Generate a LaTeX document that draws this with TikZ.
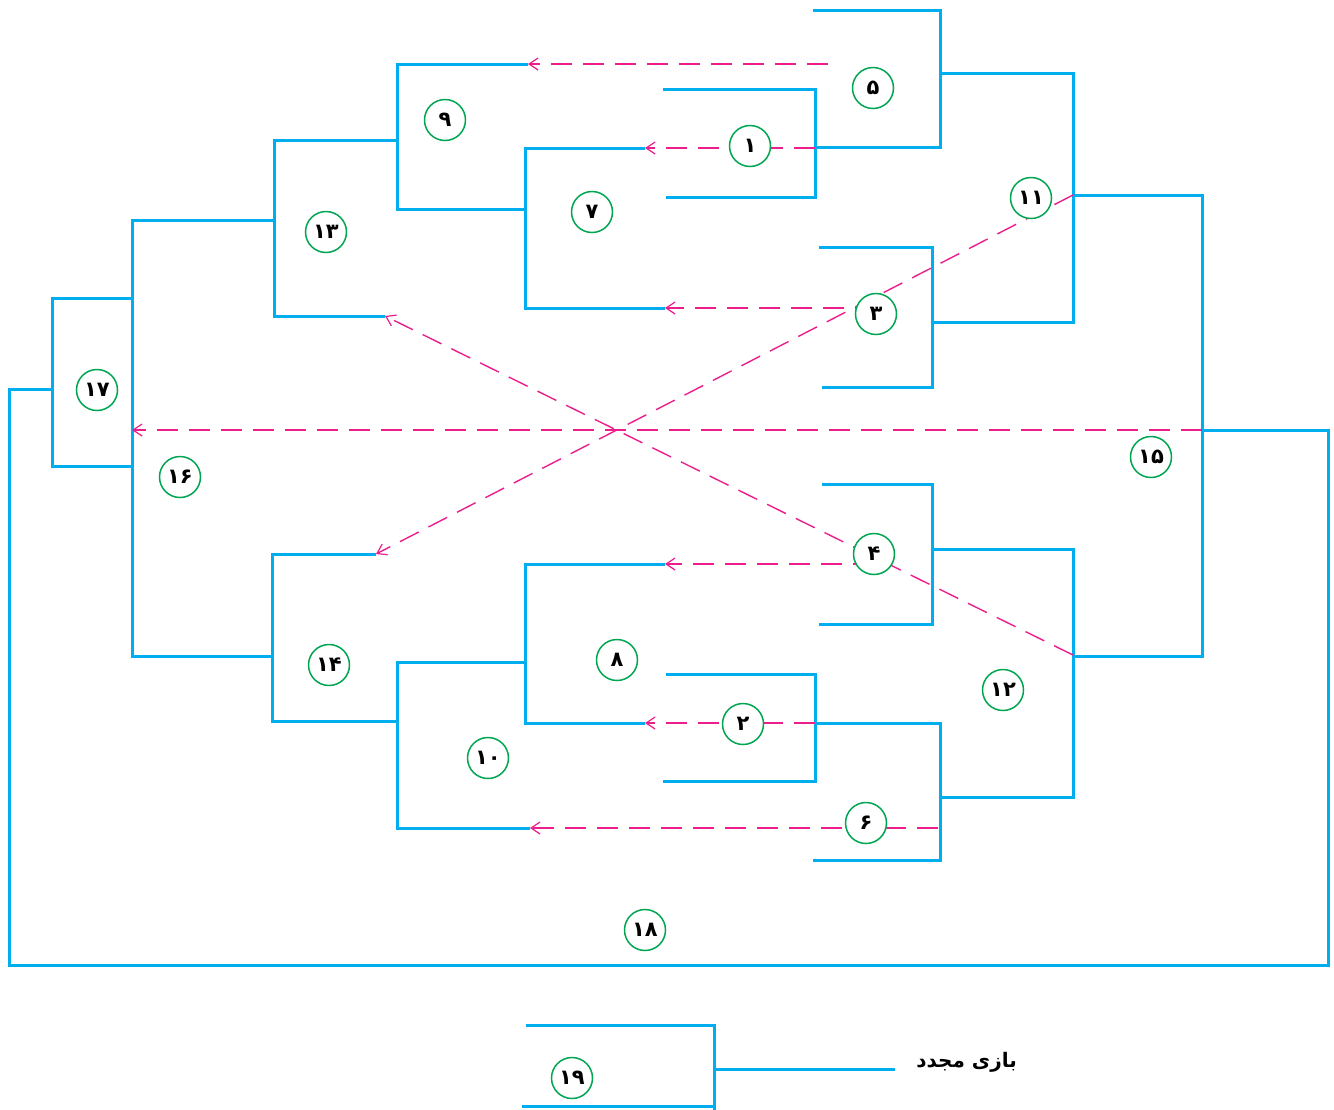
\documentclass[tikz,border=0pt]{standalone}
\usepackage{fontspec}
\newfontfamily\fa[Script=Arabic]{DejaVu Sans}
\TeXXeTstate=1
\usetikzlibrary{arrows.meta}
\definecolor{bblue}{RGB}{0,174,239}
\definecolor{mpink}{RGB}{236,30,140}
\definecolor{ggreen}{RGB}{0,166,81}
\tikzset{
  br/.style={draw=bblue, line width=3pt, line join=miter},
  loser/.style={draw=mpink, line width=1.4pt, dash pattern=on 21pt off 11pt,
    -{Straight Barb[length=9pt,width=12pt,line width=1.2pt]}},
  num/.style={circle, draw=ggreen, line width=1.5pt, fill=white, minimum size=41pt,
    inner sep=0pt, font=\fa\bfseries\fontsize{21}{21}\selectfont},
  lbl/.style={font=\fa\bfseries\fontsize{20}{20}\selectfont, inner sep=0pt},
}
\begin{document}
\begin{tikzpicture}[x=1pt,y=-1pt]
\useasboundingbox (0,0) rectangle (1334,1109);
% named end points
\coordinate (b9t) at (528,64);
\coordinate (b7t) at (645,148);
\coordinate (b7b) at (665,308);
\coordinate (b13b) at (385,316);
\coordinate (b14t) at (376,554);
\coordinate (b8t) at (665,564);
\coordinate (b8b) at (645,723);
\coordinate (b10b) at (530,828);
\coordinate (b16m) at (132,430);
\coordinate (s5) at (828,64);
\coordinate (b1m) at (815,148);
\coordinate (s3) at (876,308);
\coordinate (s4) at (874,564);
\coordinate (b2m) at (815,723);
\coordinate (s6) at (938,828);
\coordinate (b11o) at (1073,195);
\coordinate (b12o) at (1073,655);
\coordinate (b15o) at (1202,430);
\coordinate (e19) at (895,1069);
% brackets
\draw[br] (813,10) -- (940,10) -- (940,147) -- (815,147);
\draw[br] (663,89) -- (815,89) -- (815,197) -- (666,197);
\draw[br] (819,247) -- (932,247) -- (932,387) -- (822,387);
\draw[br] (940,73) -- (1073,73) -- (1073,322) -- (932,322);
\draw[br] (822,484) -- (932,484) -- (932,624) -- (819,624);
\draw[br] (666,674) -- (815,674) -- (815,781) -- (663,781);
\draw[br] (815,723) -- (940,723) -- (940,860) -- (813,860);
\draw[br] (932,549) -- (1073,549) -- (1073,797) -- (940,797);
\draw[br] (b11o) -- (1202,195) -- (1202,656) -- (1073,656);
\draw[br] (b15o) -- (1328,430) -- (1328,965) -- (9,965) -- (9,389) -- (52,389);
\draw[br] (132,298) -- (52,298) -- (52,466) -- (132,466);
\draw[br] (273,220) -- (132,220) -- (132,656) -- (273,656);
\draw[br] (397,140) -- (274,140) -- (274,316) -- (b13b);
\draw[br] (b9t) -- (397,64) -- (397,209) -- (525,209);
\draw[br] (b7t) -- (525,148) -- (525,308) -- (b7b);
\draw[br] (b14t) -- (272,554) -- (272,721) -- (397,721);
\draw[br] (525,662) -- (397,662) -- (397,828) -- (b10b);
\draw[br] (b8t) -- (525,564) -- (525,723) -- (b8b);
\draw[br] (526,1025) -- (714,1025) -- (714,1110);
\draw[br] (714,1106) -- (522,1106);
\draw[br] (714,1069) -- (e19);
% loser arrows
\draw[loser] (s5) -- (b9t);
\draw[loser] (b1m) -- (b7t);
\draw[loser] (s3) -- (b7b);
\draw[loser] (s4) -- (b8t);
\draw[loser] (b2m) -- (b8b);
\draw[loser] (s6) -- (b10b);
\draw[loser] (b11o) -- (b14t);
\draw[loser] (b12o) -- (b13b);
\draw[loser] (b15o) -- (b16m);
% numbers
\node[num] (n1) at (750,146) {۱};
\node[num] (n2) at (743,724) {۲};
\node[num] (n3) at (876,314) {۳};
\node[num] (n4) at (874,554) {۴};
\node[num] (n5) at (873,88) {۵};
\node[num] (n6) at (866,823) {۶};
\node[num] (n7) at (592,212) {۷};
\node[num] (n8) at (617,660) {۸};
\node[num] (n9) at (445,120) {۹};
\node[num] (n10) at (488,758) {۱۰};
\node[num] (n11) at (1031,198) {۱۱};
\node[num] (n12) at (1003,690) {۱۲};
\node[num] (n13) at (326,232) {۱۳};
\node[num] (n14) at (329,665) {۱۴};
\node[num] (n15) at (1151,457) {۱۵};
\node[num] (n16) at (180,477) {۱۶};
\node[num] (n17) at (97,390) {۱۷};
\node[num] (n18) at (645,930) {۱۸};
\node[num] (n19) at (572,1078) {۱۹};
\node[lbl, anchor=east] (replay) at (1017,1062) {\beginR بازی مجدد\endR};
\end{tikzpicture}
\end{document}
